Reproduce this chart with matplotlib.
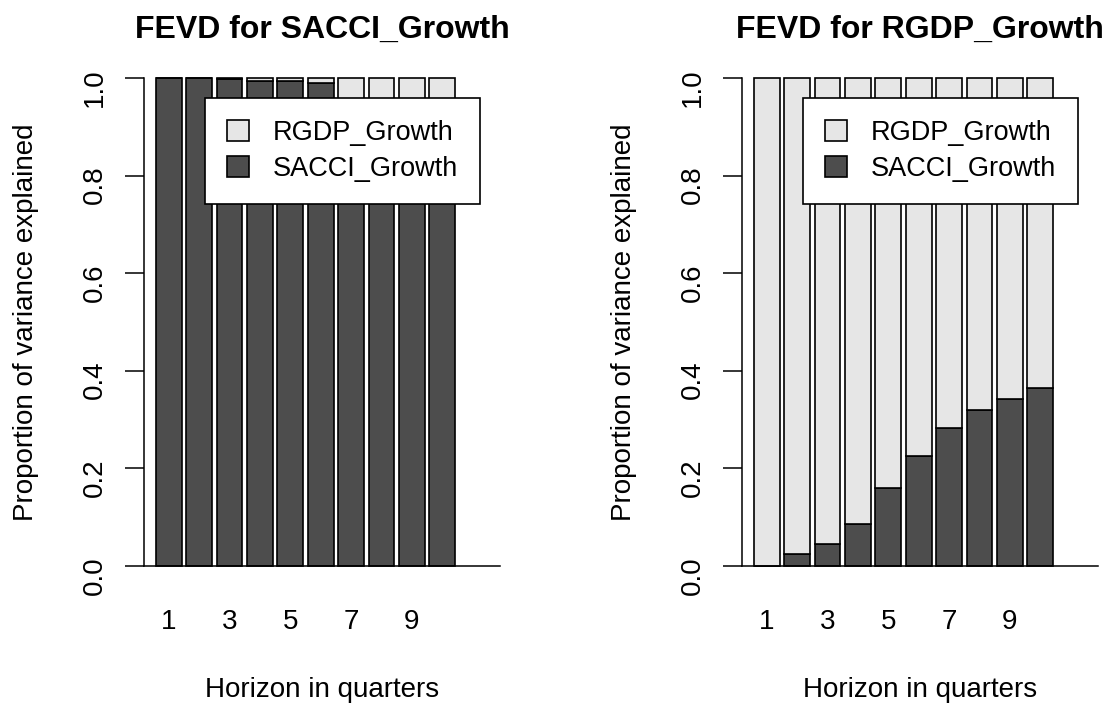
import numpy as np
import matplotlib.pyplot as plt

plt.rcParams['font.family'] = 'Liberation Sans'

# forecast horizon (quarters) and share of forecast error variance due to SACCI_Growth shocks
horizon = np.arange(1, 11)
sacci_in_sacci = np.array([1.000, 1.000, 0.998, 0.994, 0.993, 0.990, 0.955, 0.950, 0.946, 0.942])
sacci_in_rgdp = np.array([0.000, 0.025, 0.046, 0.087, 0.160, 0.225, 0.282, 0.319, 0.343, 0.365])

panels = [("SACCI_Growth", sacci_in_sacci), ("RGDP_Growth", sacci_in_rgdp)]
series_names = ["RGDP_Growth", "SACCI_Growth"]

W, H = 1104, 704
dark, light = '#4D4D4D', '#E6E6E6'
body = 20
pitch = 30.4          # px between bar centres
first_bar = 24.7      # px from y axis to centre of bar 1

fig = plt.figure(figsize=(W / 100, H / 100), dpi=100)

for k, (name, sacci) in enumerate(panels):
    x0 = 144 + 598 * k
    ax = fig.add_axes([x0 / W, 138 / H, 356 / W, 488 / H])
    rgdp = 1 - sacci

    b_sacci = ax.bar(horizon, sacci, width=0.855, color=dark,
                     edgecolor='black', linewidth=1.2, clip_on=False)
    b_rgdp = ax.bar(horizon, rgdp, bottom=sacci, width=0.855, color=light,
                    edgecolor='black', linewidth=1.2, clip_on=False)

    lo = 1 - first_bar / pitch
    ax.set_xlim(lo, lo + 356 / pitch)
    ax.set_ylim(0, 1)

    ax.spines[['top', 'right']].set_visible(False)
    ax.spines['left'].set_bounds(0, 1)
    for s in ('left', 'bottom'):
        ax.spines[s].set_linewidth(1.1)

    yt = np.linspace(0, 1, 6)
    ax.set_yticks(yt)
    ax.set_yticklabels([f'{v:.1f}' for v in yt])
    ax.tick_params(axis='y', length=13.7, width=1.1, pad=12, labelsize=body,
                   labelrotation=90)
    ax.set_xticks(horizon[::2])
    ax.tick_params(axis='x', length=0, pad=31, labelsize=body)

    ax.set_title(f'FEVD for {name}', fontsize=23, fontweight='bold', pad=28.6)
    ax.set_xlabel('Horizon in quarters', fontsize=body)
    ax.xaxis.set_label_coords(0.5, -(677 - 566) / 488)
    ax.set_ylabel('Proportion of variance explained', fontsize=body)
    ax.yaxis.set_label_coords((38.7 - 144) / 356, 0.5)

    leg = ax.legend([b_rgdp, b_sacci], series_names, loc='upper right',
                    bbox_to_anchor=((x0 + 336) / W, 1 - 98.3 / H),
                    bbox_transform=fig.transFigure, borderaxespad=0,
                    fontsize=19.5, fancybox=False, edgecolor='black',
                    framealpha=1, handlelength=0.81, handleheight=0.81,
                    handletextpad=0.9, borderpad=0.8, labelspacing=0.37)
    leg.get_frame().set_linewidth(1.2)

fig.savefig('out.png', dpi=100)
